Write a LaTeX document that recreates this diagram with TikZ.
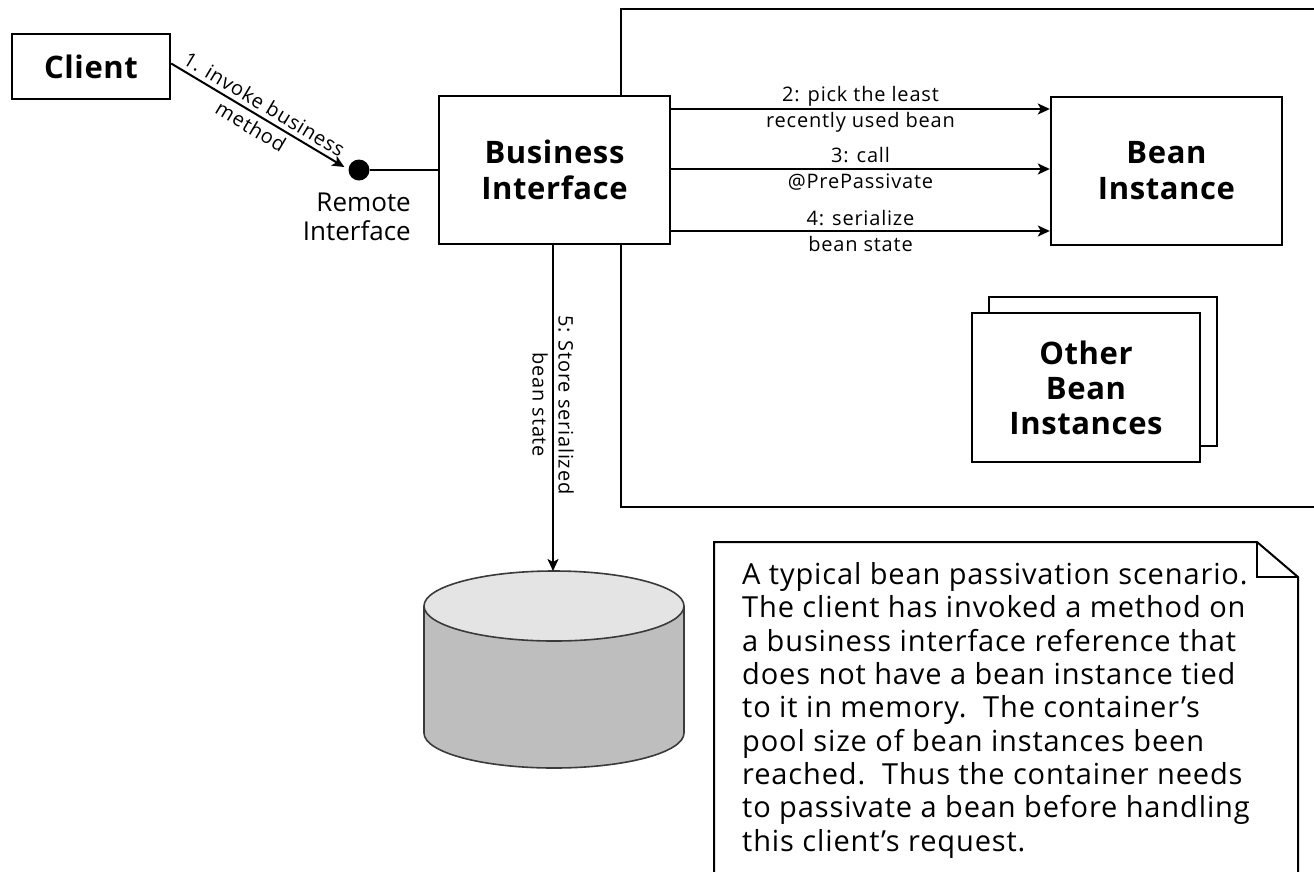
\documentclass[tikz,border=0pt]{standalone}
\usepackage{fontspec}
\setmainfont{Open Sans}
\newfontfamily\titlefont{Open Sans}[LetterSpace=2]
\newfontfamily\labelfont{Open Sans}[LetterSpace=4]
\newfontfamily\notefont{Open Sans}[LetterSpace=3]
\usetikzlibrary{arrows.meta}
\definecolor{topgray}{HTML}{E4E4E4}
\definecolor{sidegray}{HTML}{BEBEBE}
\definecolor{cylline}{HTML}{3A3A3A}
\begin{document}
\begin{tikzpicture}[x=1pt,y=-1pt,
  box/.style={draw, line width=2.4pt, fill=white, inner sep=0pt, align=center,
    font=\titlefont\fontsize{31}{36}\selectfont\bfseries},
  arr/.style={line width=2pt, -{Stealth[length=12pt,width=11pt,inset=3pt]}},
  lbl/.style={font=\labelfont\fontsize{20}{26}\selectfont, align=center, inner sep=0pt},
  frame/.style={line width=2.4pt},
  cyl/.style={draw=cylline, line width=1.6pt}]
\useasboundingbox (0,0) rectangle (1314,871);

% container
\draw[frame] (1320,9) -- (621,9) -- (621,507) -- (1320,507);

% boxes
\node[box, minimum width=158pt, minimum height=65pt] (client) at (91,66.5) {Client};
\node[box, minimum width=231pt, minimum height=148pt] (bi) at (554.5,170) {Business\\Interface};
\node[box, minimum width=231pt, minimum height=148pt] (bean) at (1166.5,171) {Bean\\Instance};
\node[box, minimum width=228pt, minimum height=149pt] (otherback) at (1103,371.5) {};
\node[box, minimum width=228pt, minimum height=149pt, font=\titlefont\fontsize{31}{35}\selectfont\bfseries] (other) at (1086,387.5) {Other\\Bean\\Instances};

% remote interface
\node[circle, fill=black, inner sep=0pt, minimum size=21pt] (dot) at (359,170) {};
\node[anchor=east, align=right, inner sep=0pt, font=\fontsize{26}{29}\selectfont] (remlabel) at (411,217) {Remote\\Interface};
\draw[line width=2pt] (dot) -- (bi.west |- dot);

% step 1
\draw[arr] ([yshift=3pt]client.east) -- node[lbl, sloped] {1. invoke business\\method} ([xshift=-4pt,yshift=3pt]dot.west);

% steps 2-4
\draw[arr] (bi.east |- 0,109) -- node[lbl] {2: pick the least\\recently used bean} (bean.west |- 0,109);
\draw[arr] (bi.east |- 0,169) -- node[lbl] {3: call\\@PrePassivate} (bean.west |- 0,169);
\draw[arr] (bi.east |- 0,231) -- node[lbl] {4: serialize\\bean state} (bean.west |- 0,231);

% database
\fill[sidegray] (424,606) rectangle (684,733);
\fill[sidegray] (554,733) ellipse[x radius=130, y radius=35];
\draw[cyl] (424,606) -- (424,733) arc[start angle=180, end angle=0, x radius=130, y radius=35] -- (684,606);
\filldraw[cyl, fill=topgray] (554,606) ellipse[x radius=130, y radius=35];
\coordinate (dbtop) at (553,571);

% step 5
\draw[arr] (bi.south -| dbtop) -- node[lbl, rotate=-90, pos=0.49] {5: Store serialized\\bean state} (dbtop);

% note
\draw[line width=2pt] (714,880) -- (714,542) -- (1257,542) -- (1298,577) -- (1298,880);
\draw[line width=2pt] (1257,542) -- (1257,577) -- (1298,577);
\node[anchor=base west, align=left, inner sep=0pt, font=\notefont\fontsize{29}{33.3}\selectfont] (notetext) at (742,851)
  {A typical bean passivation scenario.\\
   The client has invoked a method on\\
   a business interface reference that\\
   does not have a bean instance tied\\
   to it in memory.\ \ The container’s\\
   pool size of bean instances been\\
   reached.\ \ Thus the container needs\\
   to passivate a bean before handling\\
   this client’s request.};
\end{tikzpicture}
\end{document}
